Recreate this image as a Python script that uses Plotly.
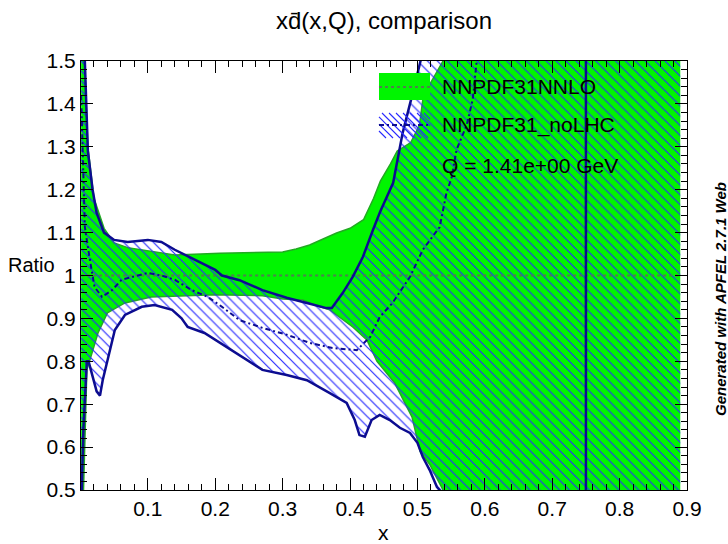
import plotly.graph_objects as go

# ---------------- data (ratio to NNPDF31NNLO central value) ----------------
nnlo_up_x = [0.001, 0.006, 0.011, 0.02, 0.035, 0.05, 0.07, 0.09, 0.14, 0.207, 0.25, 0.30, 0.32,
             0.34, 0.36, 0.38, 0.40, 0.42, 0.435, 0.445, 0.46, 0.47, 0.49, 0.503, 0.508, 0.52,
             0.538, 0.56, 0.89]
nnlo_up_y = [1.9, 1.5, 1.3, 1.18, 1.11, 1.076, 1.065, 1.06, 1.048, 1.052, 1.053, 1.055, 1.062,
             1.071, 1.085, 1.099, 1.11, 1.13, 1.18, 1.22, 1.26, 1.29, 1.31, 1.35, 1.41, 1.45,
             1.5, 1.6, 1.6]
nnlo_lo_x = [0.001, 0.005, 0.0065, 0.008, 0.0095, 0.014, 0.026, 0.04, 0.066, 0.105, 0.2, 0.27,
             0.30, 0.33, 0.355, 0.37, 0.404, 0.425, 0.44, 0.466, 0.492, 0.504, 0.518, 0.538,
             0.56, 0.89]
nnlo_lo_y = [0.3, 0.5, 0.6, 0.7, 0.78, 0.803, 0.866, 0.913, 0.936, 0.95, 0.955, 0.953, 0.945,
             0.943, 0.927, 0.92, 0.88, 0.85, 0.80, 0.75, 0.67, 0.59, 0.56, 0.5, 0.4, 0.4]
nnlo_c_x = [0.001, 0.89]
nnlo_c_y = [1.0, 1.0]

nolhc_up_x = [0.001, 0.0065, 0.011, 0.018, 0.024, 0.035, 0.05, 0.07, 0.10, 0.12, 0.14, 0.17,
              0.20, 0.21, 0.236, 0.27, 0.306, 0.336, 0.365, 0.373, 0.389, 0.404, 0.419, 0.434,
              0.445, 0.464, 0.474, 0.478, 0.493, 0.504, 0.52, 0.89]
nolhc_up_y = [1.9, 1.5, 1.29, 1.2, 1.146, 1.1, 1.083, 1.078, 1.083, 1.078, 1.06, 1.036, 1.013,
              1.0, 0.989, 0.966, 0.948, 0.936, 0.924, 0.924, 0.959, 0.997, 1.043, 1.106, 1.15,
              1.216, 1.293, 1.332, 1.425, 1.5, 1.6, 1.6]
nolhc_lo_x = [0.001, 0.002, 0.0036, 0.0045, 0.0095, 0.012, 0.024, 0.029, 0.033, 0.044, 0.051,
              0.066, 0.091, 0.11, 0.136, 0.15, 0.159, 0.184, 0.207, 0.241, 0.27, 0.306, 0.336,
              0.37, 0.395, 0.407, 0.414, 0.422, 0.432, 0.444, 0.459, 0.474, 0.489, 0.5, 0.508,
              0.518, 0.529, 0.533, 0.55, 0.89]
nolhc_lo_y = [0.45, 0.5, 0.586, 0.647, 0.80, 0.80, 0.73, 0.72, 0.756, 0.826, 0.873, 0.908,
              0.927, 0.931, 0.92, 0.90, 0.88, 0.866, 0.843, 0.81, 0.78, 0.768, 0.756, 0.726,
              0.703, 0.663, 0.628, 0.624, 0.663, 0.675, 0.663, 0.645, 0.633, 0.61, 0.577,
              0.547, 0.507, 0.5, 0.4, 0.4]
nolhc_c_x = [0.001, 0.0065, 0.014, 0.021, 0.032, 0.047, 0.061, 0.085, 0.10, 0.12, 0.14, 0.165,
             0.189, 0.21, 0.236, 0.27, 0.306, 0.34, 0.374, 0.41, 0.43, 0.444, 0.463, 0.489,
             0.508, 0.533, 0.543, 0.551, 0.558, 0.573, 0.582, 0.588, 0.6]
nolhc_c_y = [1.42, 1.113, 1.036, 0.973, 0.95, 0.966, 0.99, 1.0, 1.006, 1.0, 0.99, 0.966, 0.95,
             0.927, 0.896, 0.878, 0.862, 0.843, 0.831, 0.826, 0.857, 0.903, 0.936, 0.997, 1.06,
             1.113, 1.192, 1.23, 1.293, 1.35, 1.41, 1.5, 1.7]
nolhc_pole_x = 0.75
off_scale = [0.4, 1.6]

x_ticks = [0.1, 0.2, 0.3, 0.4, 0.5, 0.6, 0.7, 0.8, 0.9]
x_ticktext = ["0.1", "0.2", "0.3", "0.4", "0.5", "0.6", "0.7", "0.8", "0.9"]
y_ticks = [0.5, 0.6, 0.7, 0.8, 0.9, 1.0, 1.1, 1.2, 1.3, 1.4, 1.5]
y_ticktext = ["0.5", "0.6", "0.7", "0.8", "0.9", "1", "1.1", "1.2", "1.3", "1.4", "1.5"]

labels = ["NNPDF31NNLO", "NNPDF31_noLHC"]
q_label = "Q = 1.41e+00 GeV"
title = "xd\u0304(x,Q), comparison"

GREEN = "#00f500"
GREEN_EDGE = "#22aa22"
GREEN_C = "#4f7f4f"
NAVY = "#0c0c90"
HATCH = "#2a2aff"
FONT = "Liberation Sans"

fig = go.Figure()

# NNPDF31NNLO band
fig.add_trace(go.Scatter(x=nnlo_up_x + nnlo_lo_x[::-1], y=nnlo_up_y + nnlo_lo_y[::-1],
                         fill="toself", fillcolor=GREEN, mode="lines",
                         line=dict(width=0), hoverinfo="skip", showlegend=False))
for xs, ys in [(nnlo_up_x, nnlo_up_y), (nnlo_lo_x, nnlo_lo_y)]:
    fig.add_trace(go.Scatter(x=xs, y=ys, mode="lines", line=dict(color=GREEN_EDGE, width=1.5),
                             showlegend=False, hoverinfo="skip"))

# NNPDF31_noLHC band (hatched)
fig.add_trace(go.Scatter(x=nolhc_up_x + nolhc_lo_x[::-1], y=nolhc_up_y + nolhc_lo_y[::-1],
                         fill="toself", fillcolor="rgba(0,0,0,0)", mode="lines",
                         line=dict(width=0),
                         fillpattern=dict(shape="\\", fgcolor=HATCH, bgcolor="rgba(0,0,0,0)",
                                          fgopacity=1, size=7, solidity=0.17),
                         hoverinfo="skip", showlegend=False))

# NNLO central
fig.add_trace(go.Scatter(x=nnlo_c_x, y=nnlo_c_y, mode="lines",
                         line=dict(color=GREEN_C, width=2, dash="3px,3px"),
                         showlegend=False, hoverinfo="skip"))

for xs, ys in [(nolhc_up_x, nolhc_up_y), (nolhc_lo_x, nolhc_lo_y)]:
    fig.add_trace(go.Scatter(x=xs, y=ys, mode="lines", line=dict(color=NAVY, width=2.5),
                             showlegend=False, hoverinfo="skip"))
fig.add_trace(go.Scatter(x=[nolhc_pole_x, nolhc_pole_x], y=off_scale, mode="lines",
                         line=dict(color=NAVY, width=2.5), showlegend=False, hoverinfo="skip"))
fig.add_trace(go.Scatter(x=nolhc_c_x, y=nolhc_c_y, mode="lines",
                         line=dict(color=NAVY, width=2, dash="5px,3px,2px,3px"),
                         showlegend=False, hoverinfo="skip"))

# ---------------- layout ----------------
W, H = 728, 544
ML, MR, MT, MB = 81, 41, 61, 54
PW, PH = W - ML - MR, H - MT - MB


def px2paper(px, py):
    return (px - ML) / PW, (H - MB - py) / PH


shapes = []
# legend swatch 1
x0, y1 = px2paper(379, 73)
x1, y0 = px2paper(430, 100)
shapes.append(dict(type="rect", xref="paper", yref="paper", x0=x0, x1=x1, y0=y0, y1=y1,
                   fillcolor=GREEN, line=dict(width=0)))
_, ym = px2paper(0, 87)
shapes.append(dict(type="line", xref="paper", yref="paper", x0=x0, x1=x1, y0=ym, y1=ym,
                   line=dict(color=GREEN_C, width=2, dash="3px,3px")))
# legend swatch 2 (hatched)
L, R, T, B = 379, 430, 113, 138
segs = []
a = L - (B - T)
while a < R:
    sx0, sy0 = a, T
    sx1, sy1 = a + (B - T), B
    if sx0 < L:
        sy0 += L - sx0
        sx0 = L
    if sx1 > R:
        sy1 -= sx1 - R
        sx1 = R
    if sx1 > sx0:
        p0 = px2paper(sx0, sy0)
        p1 = px2paper(sx1, sy1)
        segs.append(f"M {p0[0]:.4f} {p0[1]:.4f} L {p1[0]:.4f} {p1[1]:.4f}")
    a += 7
shapes.append(dict(type="path", xref="paper", yref="paper", path=" ".join(segs),
                   line=dict(color=HATCH, width=1.1)))
_, ym2 = px2paper(0, 125)
shapes.append(dict(type="line", xref="paper", yref="paper", x0=x0, x1=x1, y0=ym2, y1=ym2,
                   line=dict(color=NAVY, width=2, dash="5px,3px,2px,3px")))


def ann(text, px, py, size, angle=0, xanchor="center"):
    ax, ay = px2paper(px, py)
    return dict(text=text, x=ax, y=ay, xref="paper", yref="paper", xanchor=xanchor,
                yanchor="middle", showarrow=False, textangle=angle,
                font=dict(family=FONT, size=size, color="black"))


annotations = []
for text, py in [(labels[0], 87), (labels[1], 125), (q_label, 165)]:
    annotations.append(ann(text, 440, py, 21, xanchor="left"))
annotations.append(ann("Ratio", 31, 265, 20))
annotations.append(ann("x", 383, 532, 21))
annotations.append(ann("<b><i>Generated with APFEL 2.7.1 Web</i></b>", 720, 299, 15, angle=-90))
annotations.append(ann(title, 384, 20, 24))

axis_common = dict(showgrid=False, zeroline=False, showline=True, linecolor="black",
                   linewidth=1, mirror="allticks", ticks="inside", ticklen=12,
                   tickwidth=1, tickcolor="black",
                   tickfont=dict(family=FONT, size=21, color="black"))

fig.update_layout(
    width=W, height=H, margin=dict(l=ML, r=MR, t=MT, b=MB),
    paper_bgcolor="white", plot_bgcolor="white",
    showlegend=False, shapes=shapes, annotations=annotations,
    xaxis=dict(range=[0.0008, 0.9], tickvals=x_ticks, ticktext=x_ticktext,
               minor=dict(dtick=0.02, tick0=0, ticks="inside", ticklen=6,
                          tickcolor="black", tickwidth=1, showgrid=False),
               **axis_common),
    yaxis=dict(range=[0.5, 1.5], tickvals=y_ticks, ticktext=y_ticktext,
               minor=dict(dtick=0.02, tick0=0, ticks="inside", ticklen=6,
                          tickcolor="black", tickwidth=1, showgrid=False),
               **axis_common),
)

fig.write_html("out.html")
